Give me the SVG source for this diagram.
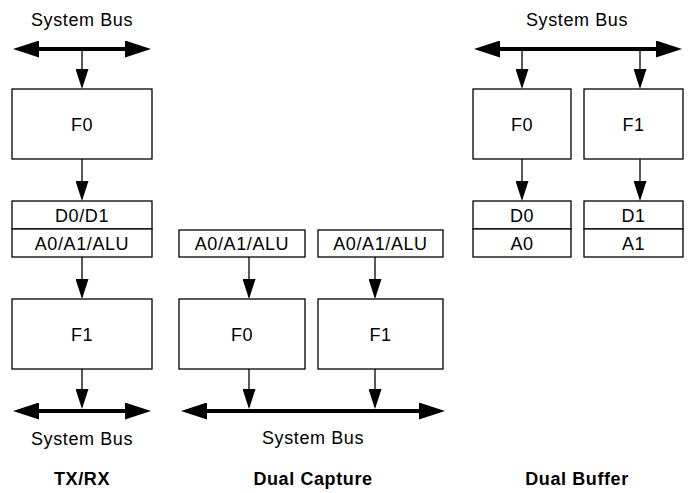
<svg xmlns="http://www.w3.org/2000/svg" width="690" height="493" viewBox="0 0 690 493">
<style>
text{font-family:"Liberation Sans",Arial,sans-serif;font-size:18px;fill:#000;text-anchor:middle;letter-spacing:0.6px}
.t{font-weight:bold}
.box{fill:#fff;stroke:#000;stroke-width:1.3}
.bus{stroke:#000;stroke-width:4;fill:none;marker-start:url(#bh);marker-end:url(#bh)}
.ar{stroke:#000;stroke-width:1.3;fill:none;marker-end:url(#ah)}
</style>
<defs>
<marker id="bh" markerUnits="userSpaceOnUse" viewBox="0 0 26 17" markerWidth="26" markerHeight="17" refX="20" refY="8.5" orient="auto-start-reverse"><path d="M0,0 L26,8.5 L0,17 z" fill="#000"/></marker>
<marker id="ah" markerUnits="userSpaceOnUse" viewBox="0 0 20 13" markerWidth="20" markerHeight="13" refX="18" refY="6.5" orient="auto"><path d="M0,0 L20,6.5 L0,13 z" fill="#000"/></marker>
</defs>
<g id="connectors">
<line class="bus" x1="19" y1="49" x2="145" y2="49"/>
<line class="ar" x1="82" y1="49" x2="82" y2="87"/>
<line class="ar" x1="82" y1="159" x2="82" y2="199"/>
<line class="ar" x1="82" y1="257" x2="82" y2="297"/>
<line class="ar" x1="82" y1="369" x2="82" y2="407"/>
<line class="bus" x1="19" y1="411" x2="145" y2="411"/>
<line class="ar" x1="249" y1="257" x2="249" y2="297"/>
<line class="ar" x1="375" y1="257" x2="375" y2="297"/>
<line class="ar" x1="249" y1="369" x2="249" y2="407"/>
<line class="ar" x1="375" y1="369" x2="375" y2="407"/>
<line class="bus" x1="187" y1="411" x2="439" y2="411"/>
<line class="bus" x1="480" y1="49" x2="676" y2="49"/>
<line class="ar" x1="522" y1="49" x2="522" y2="87"/>
<line class="ar" x1="640" y1="49" x2="640" y2="87"/>
<line class="ar" x1="522" y1="159" x2="522" y2="199"/>
<line class="ar" x1="640" y1="159" x2="640" y2="199"/>
</g>
<g id="txrx">
<text x="82" y="26">System Bus</text>
<g id="txrx-f0"><rect class="box" x="12" y="89" width="140" height="70"/><text x="82" y="131">F0</text></g>
<g id="txrx-d"><rect class="box" x="12" y="201" width="140" height="28"/><text x="82" y="222">D0/D1</text></g>
<g id="txrx-a"><rect class="box" x="12" y="229" width="140" height="28"/><text x="82" y="250">A0/A1/ALU</text></g>
<g id="txrx-f1"><rect class="box" x="12" y="299" width="140" height="70"/><text x="82" y="341">F1</text></g>
<text x="82" y="445">System Bus</text>
<text class="t" x="82" y="485">TX/RX</text>
</g>
<g id="dualcap">
<g id="dc-a0"><rect class="box" x="179" y="230" width="126" height="27"/><text x="242" y="250">A0/A1/ALU</text></g>
<g id="dc-a1"><rect class="box" x="318" y="230" width="125" height="27"/><text x="380.5" y="250">A0/A1/ALU</text></g>
<g id="dc-f0"><rect class="box" x="179" y="299" width="126" height="70"/><text x="242" y="341">F0</text></g>
<g id="dc-f1"><rect class="box" x="318" y="299" width="125" height="70"/><text x="380.5" y="341">F1</text></g>
<text x="313" y="444">System Bus</text>
<text class="t" x="313" y="485">Dual Capture</text>
</g>
<g id="dualbuf">
<text x="577" y="26">System Bus</text>
<g id="db-f0"><rect class="box" x="473" y="89" width="98" height="70"/><text x="522" y="131">F0</text></g>
<g id="db-f1"><rect class="box" x="584" y="89" width="99" height="70"/><text x="633.5" y="131">F1</text></g>
<g id="db-d0"><rect class="box" x="473" y="201" width="98" height="28"/><text x="522" y="222">D0</text></g>
<g id="db-a0"><rect class="box" x="473" y="229" width="98" height="28"/><text x="522" y="250">A0</text></g>
<g id="db-d1"><rect class="box" x="584" y="201" width="99" height="28"/><text x="633.5" y="222">D1</text></g>
<g id="db-a1"><rect class="box" x="584" y="229" width="99" height="28"/><text x="633.5" y="250">A1</text></g>
<text class="t" x="577" y="485">Dual Buffer</text>
</g>
</svg>
